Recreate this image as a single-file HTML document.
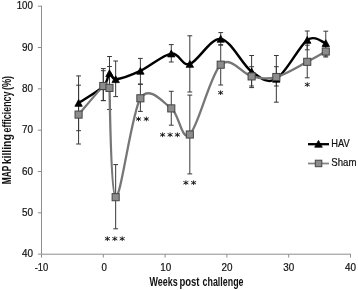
<!DOCTYPE html>
<html><head><meta charset="utf-8"><title>chart</title>
<style>html,body{margin:0;padding:0;background:#fff;}text{font-family:"Liberation Sans",sans-serif;}svg{display:block;filter:grayscale(1) blur(0.35px);}</style>
</head><body>
<svg width="358" height="290" viewBox="0 0 358 290">
<rect width="358" height="290" fill="#fff"/>
<g stroke="#8e8e8e" stroke-width="1" fill="none">
<path d="M41.5 5.7 V254.2 H351.0"/>
<path d="M37.9 6.20 H41.5"/>
<path d="M37.9 47.53 H41.5"/>
<path d="M37.9 88.85 H41.5"/>
<path d="M37.9 130.18 H41.5"/>
<path d="M37.9 171.50 H41.5"/>
<path d="M37.9 212.82 H41.5"/>
<path d="M37.9 254.15 H41.5"/>
<path d="M41.50 254.2 V257.6"/>
<path d="M103.30 254.2 V257.6"/>
<path d="M165.10 254.2 V257.6"/>
<path d="M226.90 254.2 V257.6"/>
<path d="M288.70 254.2 V257.6"/>
<path d="M350.50 254.2 V257.6"/>
</g>
<g stroke="#383838" stroke-width="1.0" fill="none">
<path d="M78.58 75.90 V130.70 M76.18 75.90 H80.98 M76.18 130.70 H80.98"/>
<path d="M103.30 70.70 V100.60 M100.90 70.70 H105.70 M100.90 100.60 H105.70"/>
<path d="M109.48 56.50 V90.50 M107.08 56.50 H111.88 M107.08 90.50 H111.88"/>
<path d="M115.66 61.00 V96.60 M113.26 61.00 H118.06 M113.26 96.60 H118.06"/>
<path d="M140.38 58.40 V84.00 M137.98 58.40 H142.78 M137.98 84.00 H142.78"/>
<path d="M171.28 44.60 V62.00 M168.88 44.60 H173.68 M168.88 62.00 H173.68"/>
<path d="M189.82 35.80 V92.00 M187.42 35.80 H192.22 M187.42 92.00 H192.22"/>
<path d="M220.72 32.60 V45.20 M218.32 32.60 H223.12 M218.32 45.20 H223.12"/>
<path d="M251.62 55.50 V87.60 M249.22 55.50 H254.02 M249.22 87.60 H254.02"/>
<path d="M276.34 55.50 V102.20 M273.94 55.50 H278.74 M273.94 102.20 H278.74"/>
<path d="M307.24 31.00 V49.80 M304.84 31.00 H309.64 M304.84 49.80 H309.64"/>
<path d="M325.78 31.20 V56.00 M323.38 31.20 H328.18 M323.38 56.00 H328.18"/>
</g>
<g stroke="#383838" stroke-width="1.0" fill="none">
<path d="M78.58 85.20 V144.00 M76.18 85.20 H80.98 M76.18 144.00 H80.98"/>
<path d="M103.30 68.60 V100.60 M100.90 68.60 H105.70 M100.90 100.60 H105.70"/>
<path d="M109.48 66.50 V109.50 M107.08 66.50 H111.88 M107.08 109.50 H111.88"/>
<path d="M115.66 164.60 V228.80 M113.26 164.60 H118.06 M113.26 228.80 H118.06"/>
<path d="M140.38 84.40 V111.40 M137.98 84.40 H142.78 M137.98 111.40 H142.78"/>
<path d="M171.28 91.30 V125.20 M168.88 91.30 H173.68 M168.88 125.20 H173.68"/>
<path d="M189.82 95.10 V173.90 M187.42 95.10 H192.22 M187.42 173.90 H192.22"/>
<path d="M220.72 44.60 V85.00 M218.32 44.60 H223.12 M218.32 85.00 H223.12"/>
<path d="M251.62 66.70 V86.00 M249.22 66.70 H254.02 M249.22 86.00 H254.02"/>
<path d="M276.34 66.70 V86.00 M273.94 66.70 H278.74 M273.94 86.00 H278.74"/>
<path d="M307.24 45.20 V77.80 M304.84 45.20 H309.64 M304.84 77.80 H309.64"/>
<path d="M325.78 46.20 V57.00 M323.38 46.20 H328.18 M323.38 57.00 H328.18"/>
</g>
<path d="M78.58 103.00 C82.70 100.22 98.15 91.25 103.30 86.30 C108.45 81.35 107.42 74.47 109.48 73.30 C111.54 72.13 111.37 79.63 115.66 79.30 C119.95 78.97 131.11 75.18 140.38 70.90 C149.65 66.62 163.04 54.75 171.28 53.60 C179.52 52.45 181.58 66.45 189.82 64.00 C198.06 61.55 210.42 37.63 220.72 38.90 C231.02 40.17 242.35 64.93 251.62 71.60 C260.89 78.27 267.07 84.17 276.34 78.90 C285.61 73.63 299.61 45.51 307.24 40.00 C314.87 34.49 322.69 42.67 325.78 43.20" fill="none" stroke="#000" stroke-width="2.45" stroke-linejoin="round" stroke-linecap="round"/>
<path d="M78.58 99.50 L82.28 106.30 L74.88 106.30 Z" fill="#000" stroke="#000" stroke-width="0.8" stroke-linejoin="round"/>
<path d="M103.30 82.80 L107.00 89.60 L99.60 89.60 Z" fill="#000" stroke="#000" stroke-width="0.8" stroke-linejoin="round"/>
<path d="M109.48 69.80 L113.18 76.60 L105.78 76.60 Z" fill="#000" stroke="#000" stroke-width="0.8" stroke-linejoin="round"/>
<path d="M115.66 75.80 L119.36 82.60 L111.96 82.60 Z" fill="#000" stroke="#000" stroke-width="0.8" stroke-linejoin="round"/>
<path d="M140.38 67.40 L144.08 74.20 L136.68 74.20 Z" fill="#000" stroke="#000" stroke-width="0.8" stroke-linejoin="round"/>
<path d="M171.28 50.10 L174.98 56.90 L167.58 56.90 Z" fill="#000" stroke="#000" stroke-width="0.8" stroke-linejoin="round"/>
<path d="M189.82 60.50 L193.52 67.30 L186.12 67.30 Z" fill="#000" stroke="#000" stroke-width="0.8" stroke-linejoin="round"/>
<path d="M220.72 35.40 L224.42 42.20 L217.02 42.20 Z" fill="#000" stroke="#000" stroke-width="0.8" stroke-linejoin="round"/>
<path d="M251.62 68.10 L255.32 74.90 L247.92 74.90 Z" fill="#000" stroke="#000" stroke-width="0.8" stroke-linejoin="round"/>
<path d="M276.34 75.40 L280.04 82.20 L272.64 82.20 Z" fill="#000" stroke="#000" stroke-width="0.8" stroke-linejoin="round"/>
<path d="M307.24 36.50 L310.94 43.30 L303.54 43.30 Z" fill="#000" stroke="#000" stroke-width="0.8" stroke-linejoin="round"/>
<path d="M325.78 39.70 L329.48 46.50 L322.08 46.50 Z" fill="#000" stroke="#000" stroke-width="0.8" stroke-linejoin="round"/>
<path d="M78.58 114.60 C82.70 109.83 100.85 88.11 103.30 86.00 C105.75 83.89 109.12 84.69 109.48 87.90 C109.84 91.11 110.51 195.47 115.66 197.20 C120.81 198.93 131.75 112.08 140.38 98.30 C149.01 84.52 163.04 102.37 171.28 108.40 C179.52 114.43 181.58 141.78 189.82 134.50 C198.06 127.22 210.42 74.38 220.72 64.70 C231.02 55.02 242.35 74.35 251.62 76.40 C260.89 78.45 267.07 79.43 276.34 77.00 C285.61 74.57 299.00 66.05 307.24 61.80 C315.48 57.55 322.69 53.22 325.78 51.50" fill="none" stroke="#767676" stroke-width="2.3" stroke-linejoin="round" stroke-linecap="round"/>
<rect x="75.03" y="111.05" width="7.1" height="7.1" fill="#8c8c8c" stroke="#444" stroke-width="1"/>
<rect x="99.75" y="82.45" width="7.1" height="7.1" fill="#8c8c8c" stroke="#444" stroke-width="1"/>
<rect x="105.93" y="84.35" width="7.1" height="7.1" fill="#8c8c8c" stroke="#444" stroke-width="1"/>
<rect x="112.11" y="193.65" width="7.1" height="7.1" fill="#8c8c8c" stroke="#444" stroke-width="1"/>
<rect x="136.83" y="94.75" width="7.1" height="7.1" fill="#8c8c8c" stroke="#444" stroke-width="1"/>
<rect x="167.73" y="104.85" width="7.1" height="7.1" fill="#8c8c8c" stroke="#444" stroke-width="1"/>
<rect x="186.27" y="130.95" width="7.1" height="7.1" fill="#8c8c8c" stroke="#444" stroke-width="1"/>
<rect x="217.17" y="61.15" width="7.1" height="7.1" fill="#8c8c8c" stroke="#444" stroke-width="1"/>
<rect x="248.07" y="72.85" width="7.1" height="7.1" fill="#8c8c8c" stroke="#444" stroke-width="1"/>
<rect x="272.79" y="73.45" width="7.1" height="7.1" fill="#8c8c8c" stroke="#444" stroke-width="1"/>
<rect x="303.69" y="58.25" width="7.1" height="7.1" fill="#8c8c8c" stroke="#444" stroke-width="1"/>
<rect x="322.23" y="47.95" width="7.1" height="7.1" fill="#8c8c8c" stroke="#444" stroke-width="1"/>
<path d="M107.40 236.36 L107.40 241.04 M104.92 237.38 L109.88 240.02 M109.88 237.38 L104.92 240.02 " stroke="#1a1a1a" stroke-width="0.95" fill="none"/>
<circle cx="107.40" cy="238.70" r="0.7" fill="#1a1a1a"/>
<path d="M114.80 236.36 L114.80 241.04 M112.32 237.38 L117.28 240.02 M117.28 237.38 L112.32 240.02 " stroke="#1a1a1a" stroke-width="0.95" fill="none"/>
<circle cx="114.80" cy="238.70" r="0.7" fill="#1a1a1a"/>
<path d="M122.20 236.36 L122.20 241.04 M119.72 237.38 L124.68 240.02 M124.68 237.38 L119.72 240.02 " stroke="#1a1a1a" stroke-width="0.95" fill="none"/>
<circle cx="122.20" cy="238.70" r="0.7" fill="#1a1a1a"/>
<path d="M138.50 116.66 L138.50 121.34 M136.02 117.68 L140.98 120.32 M140.98 117.68 L136.02 120.32 " stroke="#1a1a1a" stroke-width="0.95" fill="none"/>
<circle cx="138.50" cy="119.00" r="0.7" fill="#1a1a1a"/>
<path d="M146.30 116.66 L146.30 121.34 M143.82 117.68 L148.78 120.32 M148.78 117.68 L143.82 120.32 " stroke="#1a1a1a" stroke-width="0.95" fill="none"/>
<circle cx="146.30" cy="119.00" r="0.7" fill="#1a1a1a"/>
<path d="M162.60 132.46 L162.60 137.14 M160.12 133.48 L165.08 136.12 M165.08 133.48 L160.12 136.12 " stroke="#1a1a1a" stroke-width="0.95" fill="none"/>
<circle cx="162.60" cy="134.80" r="0.7" fill="#1a1a1a"/>
<path d="M170.10 132.46 L170.10 137.14 M167.62 133.48 L172.58 136.12 M172.58 133.48 L167.62 136.12 " stroke="#1a1a1a" stroke-width="0.95" fill="none"/>
<circle cx="170.10" cy="134.80" r="0.7" fill="#1a1a1a"/>
<path d="M177.40 132.46 L177.40 137.14 M174.92 133.48 L179.88 136.12 M179.88 133.48 L174.92 136.12 " stroke="#1a1a1a" stroke-width="0.95" fill="none"/>
<circle cx="177.40" cy="134.80" r="0.7" fill="#1a1a1a"/>
<path d="M185.90 180.36 L185.90 185.04 M183.42 181.38 L188.38 184.02 M188.38 181.38 L183.42 184.02 " stroke="#1a1a1a" stroke-width="0.95" fill="none"/>
<circle cx="185.90" cy="182.70" r="0.7" fill="#1a1a1a"/>
<path d="M193.60 180.36 L193.60 185.04 M191.12 181.38 L196.08 184.02 M196.08 181.38 L191.12 184.02 " stroke="#1a1a1a" stroke-width="0.95" fill="none"/>
<circle cx="193.60" cy="182.70" r="0.7" fill="#1a1a1a"/>
<path d="M220.60 90.36 L220.60 95.04 M218.12 91.38 L223.08 94.02 M223.08 91.38 L218.12 94.02 " stroke="#1a1a1a" stroke-width="0.95" fill="none"/>
<circle cx="220.60" cy="92.70" r="0.7" fill="#1a1a1a"/>
<path d="M307.30 82.26 L307.30 86.94 M304.82 83.28 L309.78 85.92 M309.78 83.28 L304.82 85.92 " stroke="#1a1a1a" stroke-width="0.95" fill="none"/>
<circle cx="307.30" cy="84.60" r="0.7" fill="#1a1a1a"/>
<path d="M308 144.2 H329" stroke="#000" stroke-width="2.3" fill="none"/>
<path d="M318.5 140.4 L322.3 147.2 L314.7 147.2 Z" fill="#000" stroke="#000" stroke-width="0.8" stroke-linejoin="round"/>
<path d="M308 163.5 H329" stroke="#858585" stroke-width="1.8" fill="none"/>
<rect x="315.3" y="160.2" width="6.5" height="6.5" fill="#8c8c8c" stroke="#444" stroke-width="1"/>
<text x="16.70" y="9.40" text-anchor="start" font-size="10.5" fill="#111" stroke="#111" stroke-width="0.2" textLength="16.2" lengthAdjust="spacingAndGlyphs" >100</text>
<text x="21.90" y="50.67" text-anchor="start" font-size="10.5" fill="#111" stroke="#111" stroke-width="0.2" textLength="11.0" lengthAdjust="spacingAndGlyphs" >90</text>
<text x="21.90" y="91.95" text-anchor="start" font-size="10.5" fill="#111" stroke="#111" stroke-width="0.2" textLength="11.0" lengthAdjust="spacingAndGlyphs" >80</text>
<text x="21.90" y="133.22" text-anchor="start" font-size="10.5" fill="#111" stroke="#111" stroke-width="0.2" textLength="11.0" lengthAdjust="spacingAndGlyphs" >70</text>
<text x="21.90" y="174.50" text-anchor="start" font-size="10.5" fill="#111" stroke="#111" stroke-width="0.2" textLength="11.0" lengthAdjust="spacingAndGlyphs" >60</text>
<text x="21.90" y="215.78" text-anchor="start" font-size="10.5" fill="#111" stroke="#111" stroke-width="0.2" textLength="11.0" lengthAdjust="spacingAndGlyphs" >50</text>
<text x="21.90" y="257.05" text-anchor="start" font-size="10.5" fill="#111" stroke="#111" stroke-width="0.2" textLength="11.0" lengthAdjust="spacingAndGlyphs" >40</text>
<text x="34.70" y="271.00" text-anchor="start" font-size="10.5" fill="#111" stroke="#111" stroke-width="0.2" textLength="13.6" lengthAdjust="spacingAndGlyphs" >-10</text>
<text x="101.50" y="271.00" text-anchor="start" font-size="10.5" fill="#111" stroke="#111" stroke-width="0.2" textLength="5.4" lengthAdjust="spacingAndGlyphs" >0</text>
<text x="160.20" y="271.00" text-anchor="start" font-size="10.5" fill="#111" stroke="#111" stroke-width="0.2" textLength="11.0" lengthAdjust="spacingAndGlyphs" >10</text>
<text x="221.40" y="271.00" text-anchor="start" font-size="10.5" fill="#111" stroke="#111" stroke-width="0.2" textLength="11.0" lengthAdjust="spacingAndGlyphs" >20</text>
<text x="283.20" y="271.00" text-anchor="start" font-size="10.5" fill="#111" stroke="#111" stroke-width="0.2" textLength="11.0" lengthAdjust="spacingAndGlyphs" >30</text>
<text x="345.00" y="271.00" text-anchor="start" font-size="10.5" fill="#111" stroke="#111" stroke-width="0.2" textLength="11.0" lengthAdjust="spacingAndGlyphs" >40</text>
<text x="331.30" y="146.60" text-anchor="start" fill="#111" stroke="#111" stroke-width="0.2" textLength="18.4" lengthAdjust="spacingAndGlyphs" font-size="10.1">HAV</text>
<text x="331.30" y="165.90" text-anchor="start" fill="#111" stroke="#111" stroke-width="0.2" textLength="25.2" lengthAdjust="spacingAndGlyphs" font-size="10.1">Sham</text>
<text x="149.60" y="285.80" text-anchor="start" fill="#111" stroke="#111" textLength="28.1" lengthAdjust="spacingAndGlyphs" font-weight="bold" font-size="12.2" stroke-width="0">Weeks</text>
<text x="179.40" y="285.80" text-anchor="start" fill="#111" stroke="#111" textLength="20.1" lengthAdjust="spacingAndGlyphs" font-weight="bold" font-size="12.2" stroke-width="0">post</text>
<text x="202.60" y="285.80" text-anchor="start" fill="#111" stroke="#111" textLength="40.9" lengthAdjust="spacingAndGlyphs" font-weight="bold" font-size="12.2" stroke-width="0">challenge</text>
<g transform="translate(10.8 183.6) rotate(-90)">
<text x="-0.60" y="0.00" text-anchor="start" fill="#111" stroke="#111" textLength="18.6" lengthAdjust="spacingAndGlyphs" font-weight="bold" font-size="12.2" stroke-width="0">MAP</text>
<text x="19.30" y="0.00" text-anchor="start" fill="#111" stroke="#111" textLength="30.2" lengthAdjust="spacingAndGlyphs" font-weight="bold" font-size="12.2" stroke-width="0">killing</text>
<text x="51.20" y="0.00" text-anchor="start" fill="#111" stroke="#111" textLength="40.8" lengthAdjust="spacingAndGlyphs" font-weight="bold" font-size="12.2" stroke-width="0">efficiency</text>
<text x="93.50" y="0.00" text-anchor="start" fill="#111" stroke="#111" textLength="14.2" lengthAdjust="spacingAndGlyphs" font-weight="bold" font-size="12.2" stroke-width="0">(%)</text>
</g>
</svg>
</body></html>
